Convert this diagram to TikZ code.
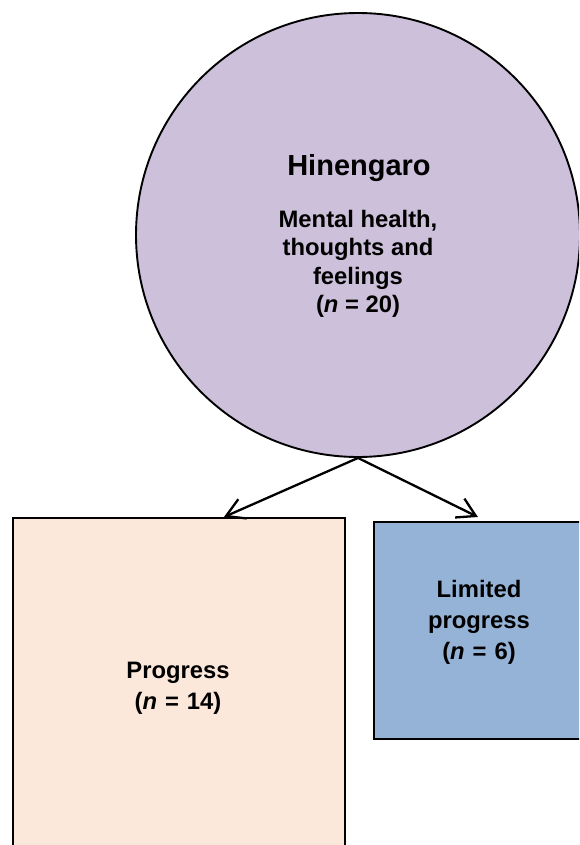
\documentclass[tikz,border=0pt]{standalone}
\usepackage{fontspec}
\setmainfont{Liberation Sans}
\usetikzlibrary{arrows.meta}

\definecolor{lavender}{RGB}{204,192,218}
\definecolor{peach}{RGB}{252,232,218}
\definecolor{steel}{RGB}{149,179,215}

\tikzset{
  outline/.style={draw=black, line width=1.9pt},
  bodytext/.style={align=center, font=\bfseries\fontsize{23.8}{28.5}\selectfont, inner sep=0pt},
  titletext/.style={font=\bfseries\fontsize{29}{34}\selectfont, inner sep=0pt},
  link/.style={line width=2.3pt, -{Straight Barb[length=18pt,width=21pt,line width=2.3pt]}},
}

\begin{document}
\begin{tikzpicture}[x=1pt, y=-1pt]
  \useasboundingbox (0,0) rectangle (579,845);
  \clip (0,0) rectangle (579,845);

  % Hinengaro circle
  \node[outline, fill=lavender, circle, minimum size=444pt, inner sep=0pt] (circ) at (358,235) {};
  \node[titletext] (title) at (359,168) {Hinengaro};
  \node[bodytext] (body) at (358,264)
    {Mental health,\\thoughts and\\feelings\\(\textit{n} = 20)};

  % Outcome boxes
  \node[outline, fill=peach, minimum width=332pt, minimum height=340pt, inner sep=0pt, anchor=north west] (lbox) at (12,517) {};
  \node[bodytext, text width=300pt, font=\bfseries\fontsize{23.8}{31}\selectfont] (ltext) at (178,688)
    {Progress\\(\textit{n} = 14)};

  \node[outline, fill=steel, minimum width=212pt, minimum height=217pt, inner sep=0pt, anchor=north west] (rbox) at (373,521) {};
  \node[bodytext, text width=200pt, font=\bfseries\fontsize{23.8}{31}\selectfont] (rtext) at (479,622)
    {Limited\\progress\\(\textit{n} = 6)};

  % Connectors
  \draw[link] (circ.south) -- ([xshift=45pt]lbox.north);
  \draw[link] (circ.south) -- ([xshift=-2pt,yshift=4pt]rbox.north);
\end{tikzpicture}
\end{document}
